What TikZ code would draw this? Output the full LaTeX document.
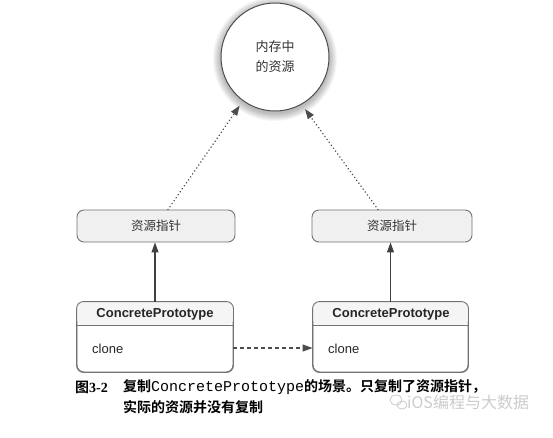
\documentclass[tikz,border=0pt]{standalone}
\usepackage{fontspec}
\setmainfont{Liberation Serif}
\setsansfont{Liberation Sans}
\setmonofont{Liberation Mono}
\newfontfamily\cjk{Noto Sans CJK SC}
\newfontfamily\cjkb{Noto Sans CJK SC Bold}
\usetikzlibrary{arrows.meta,calc}
\begin{document}
\begin{tikzpicture}[x=1pt,y=-1pt,
  boxline/.style={draw=black!55, line width=0.9pt},
  ptr/.style={boxline, fill=black!6, rounded corners=7pt, minimum height=32pt, inner sep=0pt,
    font=\cjk\fontsize{12.5}{15}\selectfont, text=black!80},
  cbox/.style={boxline, fill=white, rounded corners=7pt, minimum height=70pt, inner sep=0pt},
  hdr/.style={inner sep=0pt, font=\sffamily\bfseries\fontsize{13}{15}\selectfont, text=black!85},
  op/.style={inner sep=0pt, anchor=west, font=\sffamily\fontsize{13}{15}\selectfont, text=black!85},
  solidarrow/.style={draw=black!75, line width=1.1pt, -{Triangle[length=10pt,width=7pt]}},
  dotarrow/.style={draw=black!70, line width=1.7pt, line cap=round, dash pattern=on 0.01pt off 3.6pt,
    -{Triangle[length=10pt,width=7pt,line cap=butt]}},
  dasharrow/.style={draw=black!70, line width=1.1pt, dash pattern=on 4pt off 3pt, -{Triangle[length=10pt,width=7pt]}},
  captxt/.style={inner sep=0pt, anchor=west, text=black}
]
\useasboundingbox (0,0) rectangle (553,437);
\fill[white] (0,0) rectangle (553,437);

% shadow of the circle
\foreach \i in {1,...,8} \fill[black, opacity=0.035] (275,59) circle[radius=54+\i];
\node[circle, draw=black!70, line width=1pt, fill=white, minimum size=108pt, inner sep=0pt,
  outer sep=6pt, align=center, font=\cjk\fontsize{13}{20}\selectfont, text=black!80]
  (circ) at (275,57) {内存中\\的资源};

% pointer boxes
\node[ptr, minimum width=158pt] (p1) at (156,226) {资源指针};
\node[ptr, minimum width=160pt] (p2) at (392,226) {资源指针};

% concrete prototype boxes
\coordinate (d1) at (0,325);
\coordinate (d2) at (0,348);
\node[cbox, minimum width=156pt] (c1) at (155,337) {};
\node[cbox, minimum width=155pt] (c2) at (390.5,337) {};
\foreach \c in {c1,c2}{
  \fill[black!4, rounded corners=7pt] (\c.west |- d1) |- (\c.north) -| (\c.east |- d1) -- cycle;
  \draw[boxline, rounded corners=7pt] (\c.south west) rectangle (\c.north east);
  \draw[boxline] (\c.west |- d1) -- (\c.east |- d1);
}
\node[hdr] (c1t) at (155,314) {ConcretePrototype};
\node[hdr] (c2t) at (391,314) {ConcretePrototype};
\node[op] (c1o) at (92,349) {clone};
\node[op] (c2o) at (328,349) {clone};

% connectors
\draw[solidarrow] (c1.north) -- (c1.north |- p1.south);
\draw[solidarrow] (c2.north) -- (c2.north |- p2.south);
\draw[dotarrow] ($(p1.north)+(12,0)$) -- (circ.234);
\draw[dotarrow] ($(p2.north)+(-14,0)$) -- (circ.300);
\draw[dasharrow] (c1.east |- d2) -- (c2.west |- d2);

% caption
\node[captxt] (fig) at (75,387) {{\cjkb\fontsize{14}{16}\selectfont 图}{\bfseries\fontsize{14}{16}\selectfont 3-2}};
\node[captxt] (cap1) at (123,387) {{\cjkb\fontsize{14}{16}\selectfont 复制}{\ttfamily\fontsize{15}{16}\selectfont ConcretePrototype}{\cjkb\fontsize{14}{16}\selectfont 的场景。只复制了资源指针，}};
\node[captxt] (cap2) at (123,407) {\cjkb\fontsize{14}{16}\selectfont 实际的资源并没有复制};

% watermark
\node[captxt, text=black!20, font=\cjk\fontsize{16}{16}\selectfont] (wm) at (407,402) {iOS编程与大数据};
\draw[black!20, line width=0.8pt] (396,400) ellipse[x radius=6pt, y radius=5pt];
\draw[black!20, line width=0.8pt] (402,405) ellipse[x radius=5pt, y radius=4pt];
\end{tikzpicture}
\end{document}
